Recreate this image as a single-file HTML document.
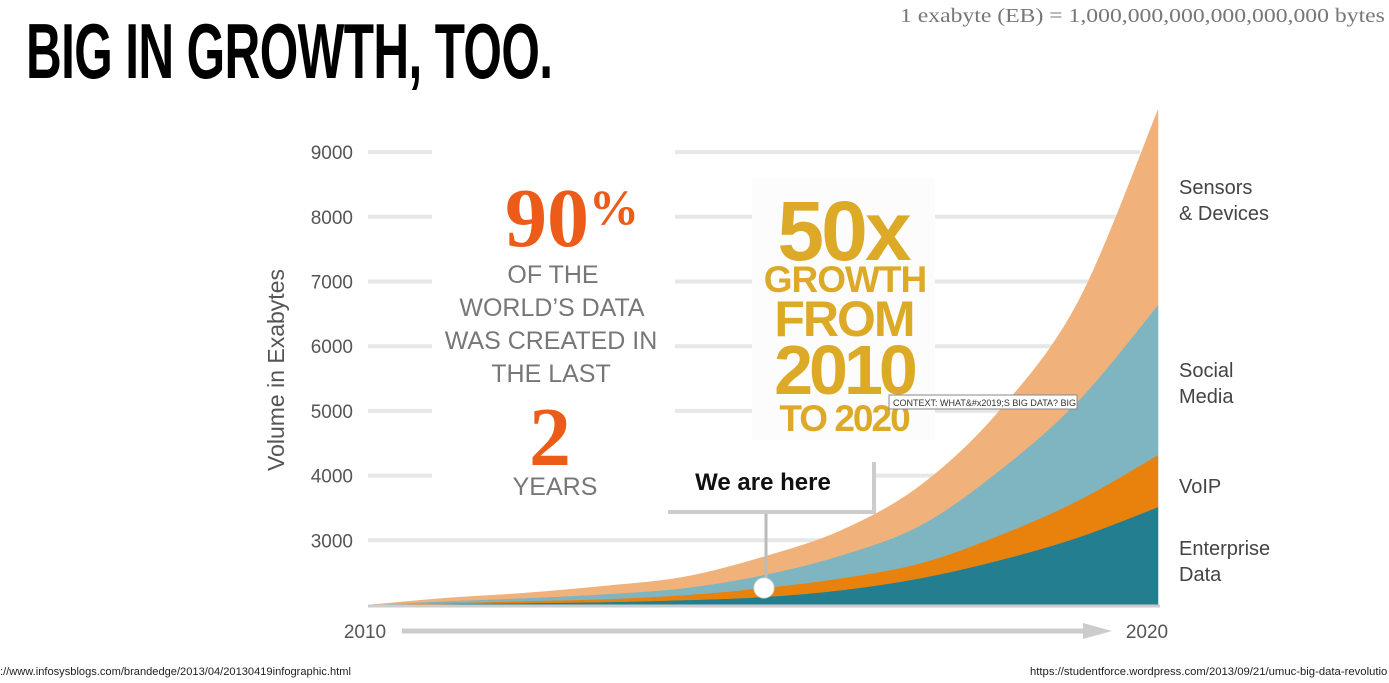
<!DOCTYPE html>
<html><head><meta charset="utf-8"><style>
body{margin:0;background:#fff;width:1389px;height:683px;overflow:hidden;position:relative;font-family:"Liberation Sans",sans-serif}
.a{position:absolute;white-space:nowrap}
</style></head><body>
<div class="a" style="left:26px;top:8px;font-size:78px;font-weight:bold;letter-spacing:-1px;transform:scaleX(0.635);transform-origin:0 0;line-height:86px">BIG IN GROWTH, TOO.</div>
<div class="a" style="left:900px;top:5px;font-family:'Liberation Serif',serif;font-size:20.5px;color:#777;transform:scaleX(1.155);transform-origin:0 0">1 exabyte (EB) = 1,000,000,000,000,000,000 bytes</div>
<svg class="a" style="left:0;top:0" width="1389" height="683">
<g id="grid"></g>
<rect x="432" y="140" width="243" height="370" fill="#fff"/>
<rect x="752" y="178" width="183" height="262" fill="#fcfcfc"/>
<g id="areas"></g>
<g id="yticks"></g>
<text x="284" y="370" transform="rotate(-90 284 370)" text-anchor="middle" font-size="23" fill="#555">Volume in Exabytes</text>
<text x="365" y="638" text-anchor="middle" font-size="19" fill="#555">2010</text>
<text x="1147" y="638" text-anchor="middle" font-size="19" fill="#555">2020</text>
<line x1="402" y1="631" x2="1085" y2="631" stroke="#ccc" stroke-width="5"/>
<polygon points="1083,623 1112,631 1083,639" fill="#ccc"/>
<text x="572" y="246" text-anchor="middle" font-family="Liberation Serif,serif" font-weight="bold" font-size="84" fill="#ec5b17">90<tspan font-size="50" dy="-22">%</tspan></text>
<g font-size="25" fill="#777" text-anchor="middle">
<text x="553" y="283">OF THE</text><text x="552" y="316">WORLD’S DATA</text><text x="551" y="349">WAS CREATED IN</text><text x="551" y="382">THE LAST</text><text x="555" y="495">YEARS</text></g>
<text x="550" y="465" text-anchor="middle" font-family="Liberation Serif,serif" font-weight="bold" font-size="84" fill="#ec5b17">2</text>
<g font-weight="bold" fill="#dcaa26" text-anchor="middle">
<text x="843" y="260" font-size="84" letter-spacing="-3">50x</text>
<text x="845" y="292" font-size="37" letter-spacing="-1">GROWTH</text>
<text x="844" y="336" font-size="50" letter-spacing="-2">FROM</text>
<text x="844" y="394" font-size="70" letter-spacing="-4">2010</text>
<text x="844" y="431" font-size="37" letter-spacing="-2">TO 2020</text></g>
<rect x="889" y="395" width="188" height="14" fill="#fff" stroke="#888"/>
<text x="893" y="406" font-size="9" fill="#333">CONTEXT: WHAT&amp;#x2019;S BIG DATA? BIG</text>
<rect x="668" y="462" width="208" height="52" fill="#ccc"/>
<rect x="664" y="458" width="208" height="52" fill="#fff"/>
<text x="763" y="490" text-anchor="middle" font-weight="bold" font-size="24" fill="#111">We are here</text>
<line x1="766" y1="514" x2="766" y2="585" stroke="#bbb" stroke-width="3"/>
<circle cx="764" cy="588" r="10" fill="#fff" stroke="#ddd"/>
<g font-size="20" fill="#444">
<text x="1179" y="194">Sensors</text><text x="1179" y="220">&amp; Devices</text>
<text x="1179" y="377">Social</text><text x="1179" y="403">Media</text>
<text x="1179" y="493">VoIP</text>
<text x="1179" y="555">Enterprise</text><text x="1179" y="581">Data</text></g>
</svg>
<div class="a" style="left:0;top:666px;font-size:11.1px;color:#222">://www.infosysblogs.com/brandedge/2013/04/20130419infographic.html</div>
<div class="a" style="left:1030px;top:666px;font-size:11.3px;color:#222">https://studentforce.wordpress.com/2013/09/21/umuc-big-data-revolutio</div>
<script>
const years=[2010,2011,2012,2013,2014,2015,2016,2017,2018,2019,2020];
const enterprise=[0,15,31,46,77,124,232,417,695,1050,1515];
const voip=[0,15,31,46,77,139,185,232,386,572,804];
const social=[0,31,46,77,108,200,355,587,1005,1545,2318];
const sensors=[0,46,77,124,170,278,386,618,927,1545,3014];
const yTicks=[3000,4000,5000,6000,7000,8000,9000];
const base=2000;
const NS='http://www.w3.org/2000/svg';
const xs=y=>368+(y-2010)*(1158-368)/10;
const ys=v=>605-(v-base)*0.0647;
const grid=document.getElementById('grid'),yt=document.getElementById('yticks'),ar=document.getElementById('areas');
yTicks.forEach(t=>{
 const l=document.createElementNS(NS,'line');
 
 
 l.setAttribute('x1',368);l.setAttribute('x2',1140);l.setAttribute('y1',ys(t));l.setAttribute('y2',ys(t));
 l.setAttribute('stroke','#e6e8e8');l.setAttribute('stroke-width','4');grid.appendChild(l);
 const tx=document.createElementNS(NS,'text');
 
 
 tx.setAttribute('x',353);tx.setAttribute('y',ys(t)+7);tx.setAttribute('text-anchor','end');
 tx.setAttribute('font-size','19');tx.setAttribute('fill','#555');tx.textContent=t;yt.appendChild(tx);
});
function curve(pts){let d='';for(let i=0;i<pts.length-1;i++){const p0=pts[Math.max(0,i-1)],p1=pts[i],p2=pts[i+1],p3=pts[Math.min(pts.length-1,i+2)];
 const c1=[p1[0]+(p2[0]-p0[0])/6,p1[1]+(p2[1]-p0[1])/6],c2=[p2[0]-(p3[0]-p1[0])/6,p2[1]-(p3[1]-p1[1])/6];
 d+=` C${c1[0]},${c1[1]} ${c2[0]},${c2[1]} ${p2[0]},${p2[1]}`;}return d;}
const layers=[[enterprise,'#237f8f','area-enterprise'],[voip,'#e8820c','area-voip'],[social,'#7fb5c0','area-social-media'],[sensors,'#f0b27a','area-sensors']];
let cum=years.map(()=>base);
const paths=[];
layers.forEach(([vals,col,name])=>{
 const lo=cum.slice();cum=cum.map((c,i)=>c+vals[i]);
 const top=years.map((y,i)=>[xs(y),ys(cum[i])]);
 const bot=years.map((y,i)=>[xs(y),ys(lo[i])]).reverse();
 const d='M'+top[0][0]+','+top[0][1]+curve(top)+' L'+bot[0][0]+','+bot[0][1]+curve(bot)+'Z';
 paths.push([d,col,name]);
});
paths.reverse().forEach(([d,col,name])=>{
 const p=document.createElementNS(NS,'path');
 
 
 p.setAttribute('d',d);p.setAttribute('fill',col);p.setAttribute('stroke',col);p.setAttribute('stroke-width','0.5');
 ar.insertBefore(p,ar.firstChild);
});
const bl=document.createElementNS(NS,'line');


bl.setAttribute('x1',368);bl.setAttribute('x2',1160);bl.setAttribute('y1',606);bl.setAttribute('y2',606);bl.setAttribute('stroke','#ccc');bl.setAttribute('stroke-width','3');ar.appendChild(bl);
</script>
</body></html>
